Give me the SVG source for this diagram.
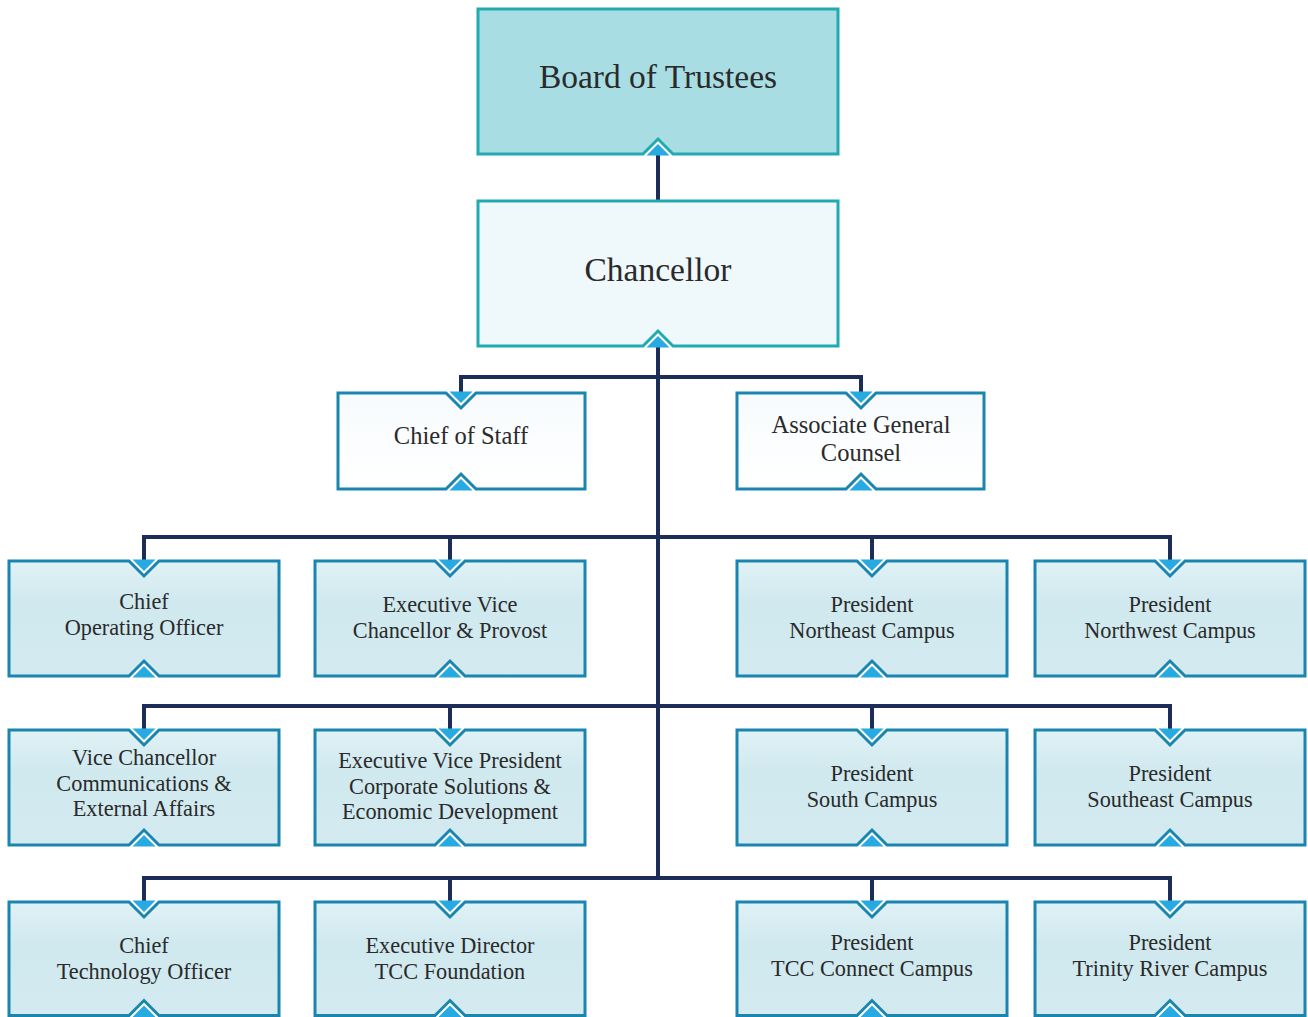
<svg xmlns="http://www.w3.org/2000/svg" width="1308" height="1017" viewBox="0 0 1308 1017">
<defs>
<linearGradient id="gRow" x1="0" y1="0" x2="0" y2="1">
<stop offset="0" stop-color="#e0f2f6"/><stop offset="0.35" stop-color="#d0e9ef"/><stop offset="1" stop-color="#d2eaf0"/>
</linearGradient>
<linearGradient id="gWhite" x1="0" y1="0" x2="0" y2="1">
<stop offset="0" stop-color="#f7fbfd"/><stop offset="1" stop-color="#ffffff"/>
</linearGradient>
</defs>
<style>
.teal{stroke:#22aab1;stroke-width:3;}
.blue{stroke:#1a86b0;stroke-width:3;}
.tri{fill:#27aae2;}
.conn{fill:none;stroke:#1c2d5a;stroke-width:4;}
text{font-family:"Liberation Serif","DejaVu Serif",serif;fill:#2a2a2a;text-anchor:middle;}
.big{font-size:33.5px;}
.mid{font-size:24.5px;}
.sm{font-size:22.3px;}
</style>
<rect width="1308" height="1017" fill="#ffffff"/>
<g id="connectors">
<path class="conn" d="M658,150 V201"/>
<path class="conn" d="M658,340 V878"/>
<path class="conn" d="M461,395 V377 H861 V395"/>
<path class="conn" d="M144,563 V537 H1170 V563 M450,537 V563 M872,537 V563"/>
<path class="conn" d="M144,732 V706 H1170 V732 M450,706 V732 M872,706 V732"/>
<path class="conn" d="M144,904 V878 H1170 V904 M450,878 V904 M872,878 V904"/>
</g>
<g id="board">
<path class="teal" fill="#a8dde3" d="M478,9 H838 V154 H673 L658,139 L643,154 H478 Z"/>
<polygon class="tri" points="646.5,155.5 669.5,155.5 658,144"/>
<text class="big" x="658" y="88">Board of Trustees</text>
</g>
<g id="chancellor">
<path class="teal" fill="#eff8fa" d="M478,201 H838 V346 H673 L658,331 L643,346 H478 Z"/>
<polygon class="tri" points="646.5,347.5 669.5,347.5 658,336"/>
<text class="big" x="658" y="281">Chancellor</text>
</g>
<g id="chief-of-staff">
<path class="blue" fill="url(#gWhite)" d="M338,393 H446 L461,408 L476,393 H585 V489 H476 L461,474 L446,489 H338 Z"/>
<polygon class="tri" points="449.5,391.5 472.5,391.5 461,403"/>
<polygon class="tri" points="449.5,490.5 472.5,490.5 461,479"/>
<text class="mid" x="461" y="444">Chief of Staff</text>
</g>
<g id="associate-general-counsel">
<path class="blue" fill="url(#gWhite)" d="M737,393 H846 L861,408 L876,393 H984 V489 H876 L861,474 L846,489 H737 Z"/>
<polygon class="tri" points="849.5,391.5 872.5,391.5 861,403"/>
<polygon class="tri" points="849.5,490.5 872.5,490.5 861,479"/>
<text class="mid" x="861" y="433">Associate General</text>
<text class="mid" x="861" y="461">Counsel</text>
</g>
<g id="coo">
<path class="blue" fill="url(#gRow)" d="M9,561 H129 L144,576 L159,561 H279 V676 H159 L144,661 L129,676 H9 Z"/>
<polygon class="tri" points="132.5,559.5 155.5,559.5 144,571"/>
<polygon class="tri" points="132.5,677.5 155.5,677.5 144,666"/>
<text class="sm" x="144" y="609">Chief</text>
<text class="sm" x="144" y="635">Operating Officer</text>
</g>
<g id="evc-provost">
<path class="blue" fill="url(#gRow)" d="M315,561 H435 L450,576 L465,561 H585 V676 H465 L450,661 L435,676 H315 Z"/>
<polygon class="tri" points="438.5,559.5 461.5,559.5 450,571"/>
<polygon class="tri" points="438.5,677.5 461.5,677.5 450,666"/>
<text class="sm" x="450" y="612">Executive Vice</text>
<text class="sm" x="450" y="638">Chancellor &amp; Provost</text>
</g>
<g id="pres-northeast">
<path class="blue" fill="url(#gRow)" d="M737,561 H857 L872,576 L887,561 H1007 V676 H887 L872,661 L857,676 H737 Z"/>
<polygon class="tri" points="860.5,559.5 883.5,559.5 872,571"/>
<polygon class="tri" points="860.5,677.5 883.5,677.5 872,666"/>
<text class="sm" x="872" y="612">President</text>
<text class="sm" x="872" y="638">Northeast Campus</text>
</g>
<g id="pres-northwest">
<path class="blue" fill="url(#gRow)" d="M1035,561 H1155 L1170,576 L1185,561 H1305 V676 H1185 L1170,661 L1155,676 H1035 Z"/>
<polygon class="tri" points="1158.5,559.5 1181.5,559.5 1170,571"/>
<polygon class="tri" points="1158.5,677.5 1181.5,677.5 1170,666"/>
<text class="sm" x="1170" y="612">President</text>
<text class="sm" x="1170" y="638">Northwest Campus</text>
</g>
<g id="vc-communications">
<path class="blue" fill="url(#gRow)" d="M9,730 H129 L144,745 L159,730 H279 V845 H159 L144,830 L129,845 H9 Z"/>
<polygon class="tri" points="132.5,728.5 155.5,728.5 144,740"/>
<polygon class="tri" points="132.5,846.5 155.5,846.5 144,835"/>
<text class="sm" x="144" y="765">Vice Chancellor</text>
<text class="sm" x="144" y="791">Communications &amp;</text>
<text class="sm" x="144" y="816">External Affairs</text>
</g>
<g id="evp-corporate">
<path class="blue" fill="url(#gRow)" d="M315,730 H435 L450,745 L465,730 H585 V845 H465 L450,830 L435,845 H315 Z"/>
<polygon class="tri" points="438.5,728.5 461.5,728.5 450,740"/>
<polygon class="tri" points="438.5,846.5 461.5,846.5 450,835"/>
<text class="sm" x="450" y="768">Executive Vice President</text>
<text class="sm" x="450" y="794">Corporate Solutions &amp;</text>
<text class="sm" x="450" y="819">Economic Development</text>
</g>
<g id="pres-south">
<path class="blue" fill="url(#gRow)" d="M737,730 H857 L872,745 L887,730 H1007 V845 H887 L872,830 L857,845 H737 Z"/>
<polygon class="tri" points="860.5,728.5 883.5,728.5 872,740"/>
<polygon class="tri" points="860.5,846.5 883.5,846.5 872,835"/>
<text class="sm" x="872" y="781">President</text>
<text class="sm" x="872" y="807">South Campus</text>
</g>
<g id="pres-southeast">
<path class="blue" fill="url(#gRow)" d="M1035,730 H1155 L1170,745 L1185,730 H1305 V845 H1185 L1170,830 L1155,845 H1035 Z"/>
<polygon class="tri" points="1158.5,728.5 1181.5,728.5 1170,740"/>
<polygon class="tri" points="1158.5,846.5 1181.5,846.5 1170,835"/>
<text class="sm" x="1170" y="781">President</text>
<text class="sm" x="1170" y="807">Southeast Campus</text>
</g>
<g id="cto">
<path class="blue" fill="url(#gRow)" d="M9,902 H129 L144,917 L159,902 H279 V1015.5 H159 L144,1000.5 L129,1015.5 H9 Z"/>
<polygon class="tri" points="132.5,900.5 155.5,900.5 144,912"/>
<polygon class="tri" points="132.5,1017 155.5,1017 144,1005.5"/>
<text class="sm" x="144" y="953">Chief</text>
<text class="sm" x="144" y="979">Technology Officer</text>
</g>
<g id="exec-director-foundation">
<path class="blue" fill="url(#gRow)" d="M315,902 H435 L450,917 L465,902 H585 V1015.5 H465 L450,1000.5 L435,1015.5 H315 Z"/>
<polygon class="tri" points="438.5,900.5 461.5,900.5 450,912"/>
<polygon class="tri" points="438.5,1017 461.5,1017 450,1005.5"/>
<text class="sm" x="450" y="953">Executive Director</text>
<text class="sm" x="450" y="979">TCC Foundation</text>
</g>
<g id="pres-connect">
<path class="blue" fill="url(#gRow)" d="M737,902 H857 L872,917 L887,902 H1007 V1015.5 H887 L872,1000.5 L857,1015.5 H737 Z"/>
<polygon class="tri" points="860.5,900.5 883.5,900.5 872,912"/>
<polygon class="tri" points="860.5,1017 883.5,1017 872,1005.5"/>
<text class="sm" x="872" y="950">President</text>
<text class="sm" x="872" y="976">TCC Connect Campus</text>
</g>
<g id="pres-trinity">
<path class="blue" fill="url(#gRow)" d="M1035,902 H1155 L1170,917 L1185,902 H1305 V1015.5 H1185 L1170,1000.5 L1155,1015.5 H1035 Z"/>
<polygon class="tri" points="1158.5,900.5 1181.5,900.5 1170,912"/>
<polygon class="tri" points="1158.5,1017 1181.5,1017 1170,1005.5"/>
<text class="sm" x="1170" y="950">President</text>
<text class="sm" x="1170" y="976">Trinity River Campus</text>
</g>
</svg>
